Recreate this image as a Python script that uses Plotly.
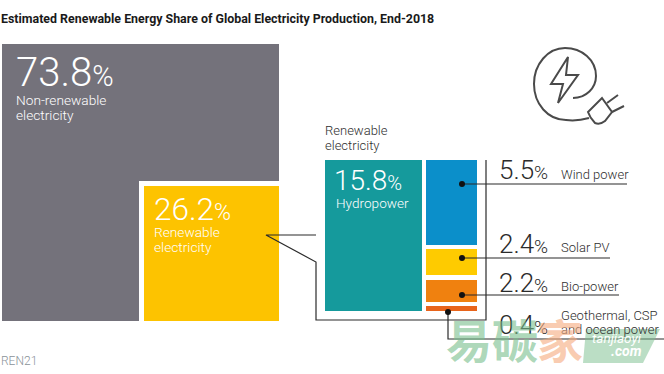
import plotly.graph_objects as go

# --- data ---
main_names = ["Non-renewable electricity", "Renewable electricity"]
main_values = [73.8, 26.2]
sub_names = ["Hydropower", "Wind power", "Solar PV", "Bio-power", "Geothermal, CSP and ocean power"]
sub_values = [15.8, 5.5, 2.4, 2.2, 0.4]

# --- layout geometry (pixel positions, left, right, top, bottom) ---
GREY, YEL, TEAL, BLUE, SUN, ORG, RUST = "#74727b", "#fdc300", "#159a9c", "#0b8fca", "#fecb00", "#f0810f", "#e8641b"
DARK = "#2b2b2b"
boxes = [
    (2, 279, 44, 321, GREY),
    (139, 279, 181, 321, "#ffffff"),
    (143.7, 279, 185.5, 321, YEL),
    (325, 422, 160, 311, TEAL),
    (426, 477, 160, 245, BLUE),
    (426, 477, 249, 275, SUN),
    (426, 477, 280, 302, ORG),
    (426, 477, 306, 311, RUST),
]

fig = go.Figure()
for x0, x1, y0, y1, c in boxes:
    fig.add_trace(go.Bar(x=[(x0 + x1) / 2], y=[y1 - y0], base=[y0], width=[x1 - x0],
                         marker=dict(color=c, line_width=0), hoverinfo="skip", showlegend=False))

def line(xs, ys, w=1.2, c=DARK):
    fig.add_trace(go.Scatter(x=xs, y=ys, mode="lines", line=dict(color=c, width=w),
                             hoverinfo="skip", showlegend=False))

line([316, 266, 316, 316, 486, 486], [235, 235, 262, 320, 320, 160])
line([462, 627], [184, 184])
line([462, 610], [258, 258])
line([462, 619], [295, 295])
line([448, 448, 664], [312, 339, 339])
fig.add_trace(go.Scatter(x=[462, 462, 462, 448], y=[184, 258, 295, 312], mode="markers",
                         marker=dict(color="#111111", size=6), hoverinfo="skip", showlegend=False))
# watermark tag
fig.add_trace(go.Scatter(x=[586, 660, 643, 583, 586], y=[329, 329, 363, 363, 329], mode="lines", fill="toself",
                         fillcolor="rgba(120,190,140,0.5)", line=dict(width=0), hoverinfo="skip", showlegend=False))

LIGHT = "Roboto"
def txt(x, y, s, size, color="#2e2e2e", family=LIGHT, weight=300, anchor="left"):
    fig.add_annotation(x=x, y=y, text=s, showarrow=False, xanchor=anchor, yanchor="middle",
                       align="left", xref="x", yref="y", borderpad=0, borderwidth=0,
                       font=dict(size=size, color=color, family=family, weight=weight))

txt(1, 18, "Estimated Renewable Energy Share of Global Electricity Production, End-2018", 12.4,
    "#1a1a1a", "Roboto", 700)

def big(x, y, v, size, color):
    txt(x, y, f"{v}<span style='font-size:{size*0.72:.0f}px'>%</span>", size, color)

big(16, 72, main_values[0], 40, "#ffffff")
txt(16, 100, "Non-renewable", 13.7, "#ffffff")
txt(16, 115, "electricity", 13.7, "#ffffff")
big(154, 209, main_values[1], 31.5, "#ffffff")
txt(154, 232, "Renewable", 13.7, "#ffffff")
txt(154, 247, "electricity", 13.7, "#ffffff")
txt(325, 130, "Renewable", 13)
txt(325, 145, "electricity", 13)
big(334, 180, sub_values[0], 28, "#ffffff")
txt(336, 203, sub_names[0], 13.6, "#ffffff")

big(499, 170, sub_values[1], 26, DARK)
txt(561, 174, sub_names[1], 13)
big(499, 244, sub_values[2], 26, DARK)
txt(561, 247, sub_names[2], 13)
big(499, 283, sub_values[3], 26, DARK)
txt(561, 286, sub_names[3], 13)
big(499, 325, sub_values[4], 26, DARK)
txt(561, 315, "Geothermal, CSP", 13)
txt(561, 329, "and ocean power", 13)
txt(1, 361, "REN21", 12, "#8a9299")

# watermark
txt(446, 338, "易碳", 46, "rgba(120,190,140,0.62)", "Noto Sans CJK SC", 700)
txt(537, 338, "家", 46, "rgba(245,170,125,0.6)", "Noto Sans CJK SC", 700)

ICON = "#4a4a4a"
shapes = [
    dict(type="path", path="M 573 98 C 586 98 596 88 596 76 C 596 60 582 48 565 48 C 548 48 534 64 534 84 C 534 104 548 120 566 120 C 574 121 582 120 589 118",
         line=dict(color=ICON, width=2)),
    dict(type="path", path="M 568 57 L 551 84 L 563 84 L 558 103 L 578 75 L 566 75 Z", line=dict(color=ICON, width=2)),
    dict(type="path", path="M 602 98 L 612 112 L 605 121 Q 600 125 595 123 Q 590 118 588 112 Z",
         line=dict(color=ICON, width=2)),
    dict(type="path", path="M 607 103 L 618 95 M 612 112 L 624 106", line=dict(color=ICON, width=2)),
]
fig.update_layout(shapes=shapes)
txt(592, 338, "<i>tanjiaoyi</i>", 13.5, "#ffffff", "Roboto", 400)
txt(611, 351, "<i>.com</i>", 14, "#ffffff", "Roboto", 700)

fig.update_layout(
    width=664, height=374, margin=dict(l=0, r=0, t=0, b=0), paper_bgcolor="#ffffff", plot_bgcolor="#ffffff",
    barmode="overlay", bargap=0, showlegend=False,
    xaxis=dict(range=[0, 664], visible=False, fixedrange=True),
    yaxis=dict(range=[374, 0], visible=False, fixedrange=True),
)
fig.write_html("out.html", config=dict(displayModeBar=False),
               post_script="document.body.style.margin='0';document.body.style.overflow='hidden';")
